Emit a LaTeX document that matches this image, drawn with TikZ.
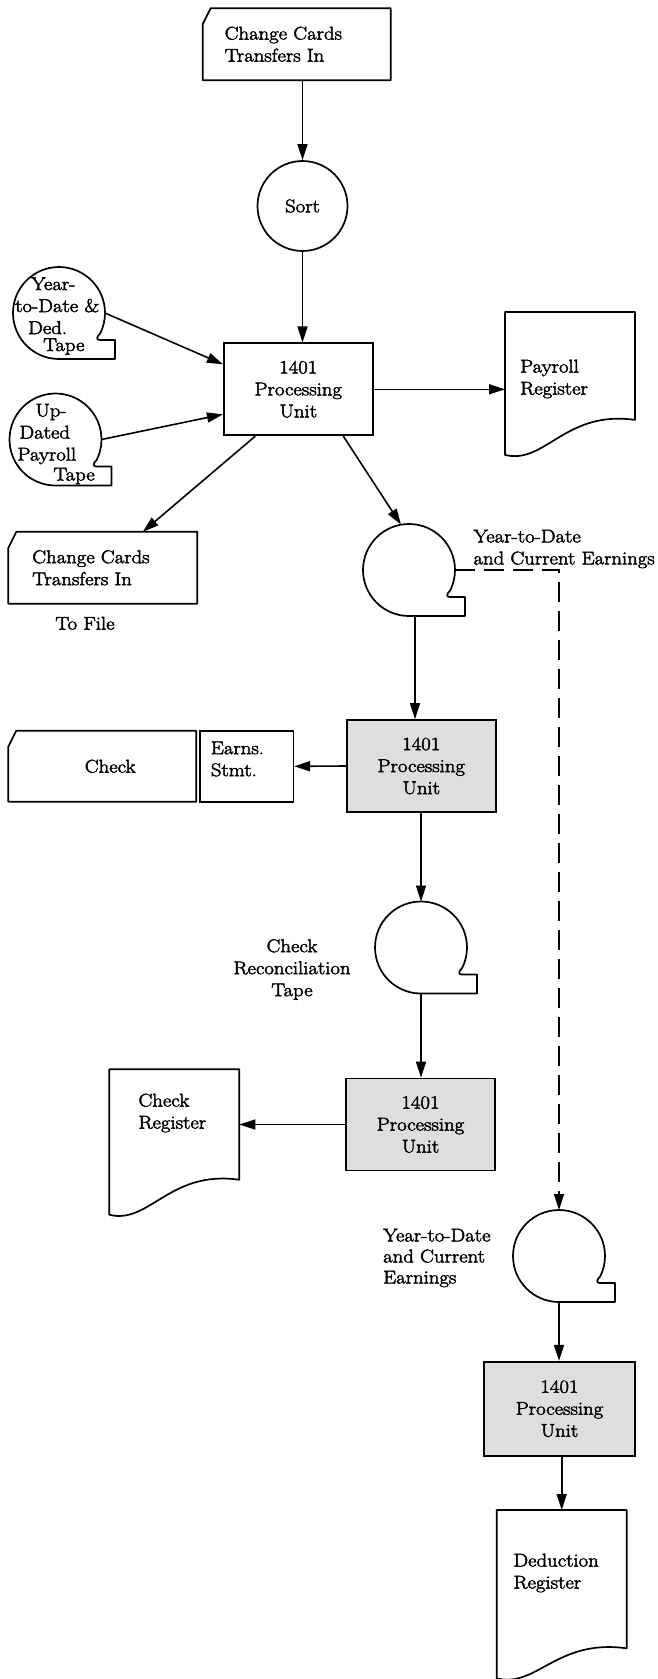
\documentclass[tikz,border=0pt]{standalone}
\usepackage{fontspec}
\usetikzlibrary{positioning,calc,arrows.meta}
\newfontfamily\flowfont{Latin Modern Roman}[FakeBold=2.5,FakeStretch=1.12]
\newcommand{\UnitText}{1401\\Processing\\Unit}
\def\ReelSize{92pt}
\def\UnitWidth{149pt}
\def\UnitHeight{92pt}
\def\CardWidth{188pt}
\def\CardHeight{72pt}
\def\DocWidth{130pt}
\tikzset{
  flow/.style={-{Triangle[length=16pt,width=10pt]},line width=1.6pt},
  outline/.style={line width=1.7pt,line join=round},
  unit/.style={
    rectangle,
    draw=black,
    line width=1.7pt,
    minimum width=\UnitWidth,
    minimum height=\UnitHeight,
    inner sep=0pt,
    align=center
  },
  shadedunit/.style={unit,fill=black!13},
  reel/.style={circle,minimum size=\ReelSize,inner sep=0pt,outer sep=0pt},
  card/.style={
    rectangle,
    minimum width=\CardWidth,
    minimum height=\CardHeight,
    inner xsep=22pt,
    inner ysep=0pt,
    outer sep=0pt,
    text width=144pt,
    align=left
  },
  document/.style={rectangle,minimum width=\DocWidth,inner sep=0pt,outer sep=0pt},
  caption/.style={inner sep=0pt,align=left}
}

\begin{document}
\begin{tikzpicture}[x=1pt,y=-1pt,font=\flowfont\fontsize{18.5}{22}\selectfont]
  \useasboundingbox (0,0) rectangle (657,1679);

  % payroll run
  \node[card] (cardin) at (296.7,44.2) {Change Cards\\Transfers In};
  \node[circle,draw,line width=1.7pt,minimum size=90pt,inner sep=0pt] (sort) at (302.5,206) {Sort};
  \node[unit] (unit1) at (298.3,389.3) {\UnitText};
  \node[reel] (reelytd) at (59,313) {};
  \node[caption,anchor=west] (ytdtext) at (15,316)
    {\hspace*{16pt}Year-\\to-Date \&\\\hspace*{13pt}Ded.\\[-5pt]\hspace*{28pt}Tape};
  \node[reel] (reelupd) at (55.5,439.5) {};
  \node[caption,anchor=west] (updtext) at (17.3,444)
    {\hspace*{18pt}Up-\\\hspace*{2pt}Dated\\Payroll\\[-2pt]\hspace*{36pt}Tape};
  \node[document,minimum height=143pt] (payreg) at (570,383.4) {};
  \node[caption,anchor=west] (payregtext) at (520,379) {Payroll\\Register};
  \node[card,inner xsep=24pt,text width=141pt] (cardout) at (102.8,567.8) {Change Cards\\Transfers In};
  \node[caption] (tofile) at (85,623.3) {To File};
  \node[reel] (reelcur) at (409,570) {};
  \node[caption,anchor=west] (curlabel) at (473.3,549) {Year-to-Date\\and Current Earnings};

  % check run
  \node[shadedunit] (unit2) at (421.3,766) {\UnitText};
  \node[card,minimum width=188pt,minimum height=71pt,align=center] (check) at (102.2,766.3) {\hspace*{16pt}Check};
  \node[rectangle,draw,line width=1.7pt,minimum width=93.3pt,minimum height=71.3pt] (earns) at (246.7,766.3) {};
  \node[caption,anchor=west] (earnstext) at (210.7,759) {Earns.\\Stmt.};
  \node[reel] (reelrec) at (421,947.5) {};
  \node[caption,align=center] (reclabel) at (292,969.5) {Check\\Reconciliation\\Tape};
  \node[shadedunit] (unit3) at (420.5,1124.5) {\UnitText};
  \node[document,minimum height=145.5pt] (chkreg) at (174.3,1142) {};
  \node[caption,anchor=west] (chkregtext) at (138.3,1113) {Check\\Register};

  % deduction run
  \node[reel] (reelded) at (559,1256) {};
  \node[caption,anchor=west,font=\flowfont\fontsize{18.5}{21}\selectfont] (dedlabel) at (383,1258) {Year-to-Date\\and Current\\Earnings};
  \node[shadedunit,minimum width=151pt,minimum height=94pt] (unit4) at (559.5,1408.7) {\UnitText};
  \node[document,minimum height=168.3pt] (dedreg) at (561.7,1594.2) {};
  \node[caption,anchor=west] (dedregtext) at (513.3,1573) {Deduction\\Register};

  % card outlines, corner clipped
  \foreach \c in {cardin,cardout,check}
    \draw[outline] ([yshift=-16pt]\c.north west) -- ([xshift=8pt]\c.north west)
      -- (\c.north east) -- (\c.south east) -- (\c.south west) -- cycle;

  % tape reels
  \foreach \reel in {reelytd,reelupd,reelcur,reelrec,reelded}
    \draw[outline] (\reel.south) arc[start angle=-90,end angle=-386,radius=46pt]
      .. controls +(-4pt,-4pt) and +(-4pt,0pt) .. ([xshift=41pt,yshift=-27pt]\reel.center)
      -- ([xshift=56pt,yshift=-27pt]\reel.center) -- ([xshift=56pt]\reel.south) -- cycle;

  % printed documents
  \foreach \doc/\rise/\pull in {payreg/35pt/45pt,chkreg/35pt/45pt,dedreg/30pt/40pt}
    \draw[outline] (\doc.north west) -- (\doc.north east) -- ([yshift=\rise]\doc.south east)
      .. controls ([xshift=60pt,yshift=\pull]\doc.south west) and ([xshift=40pt,yshift=-10pt]\doc.south west)
      .. (\doc.south west) -- cycle;

  \draw[flow] (cardin.south -| sort.north) -- (sort.north);
  \draw[flow] (sort.south) -- (sort.south |- unit1.north);
  \draw[flow] (reelytd.east) -- ([yshift=25pt]unit1.west);
  \draw[flow] (reelupd.east) -- ([yshift=-25pt]unit1.west);
  \draw[flow] (unit1.east) -- (unit1.east -| payreg.west);
  \draw[flow] ([xshift=-43pt]unit1.south) -- ([xshift=40pt]cardout.north);
  \draw[flow] ([xshift=45pt]unit1.south) -- (reelcur.100);
  \draw[flow] ($(reelcur.south)+(6pt,0)$) -- ($(reelcur.south |- unit2.north)+(6pt,0)$);
  \draw[flow] (unit2.west) -- (earns.east);
  \draw[flow] (unit2.south -| reelrec.north) -- (reelrec.north);
  \draw[flow] (reelrec.south) -- (reelrec.south |- unit3.north);
  \draw[flow] (unit3.west) -- (unit3.west -| chkreg.east);
  \draw[flow,dash pattern=on 20pt off 9pt] (reelcur.east) -| (reelded.north);
  \draw[flow] (reelded.south) -- (reelded.south |- unit4.north);
  \draw[flow] (unit4.south -| dedreg.north) -- (dedreg.north);
\end{tikzpicture}
\end{document}
